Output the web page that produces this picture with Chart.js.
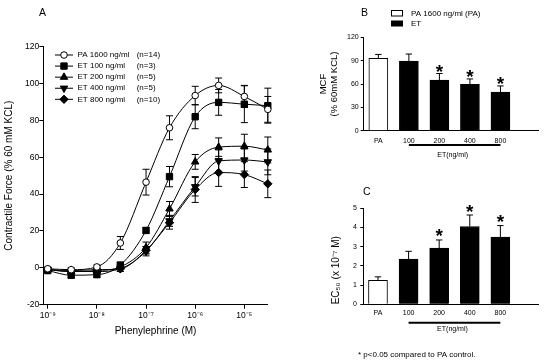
<!DOCTYPE html>
<html>
<head>
<meta charset="utf-8">
<script src="https://cdn.jsdelivr.net/npm/chart.js@4/dist/chart.umd.min.js"></script>
<style>
  body { margin: 0; background: #fff; width: 550px; height: 364px; position: relative; overflow: hidden; }
  canvas { position: absolute; }
  #chartA { left: 0; top: 0; }
  #chartB { left: 300px; top: 0; }
  #chartC { left: 300px; top: 180px; }
</style>
</head>
<body>
<canvas id="chartA" width="290" height="345"></canvas>
<canvas id="chartB" width="250" height="165"></canvas>
<canvas id="chartC" width="250" height="184"></canvas>
<script>
// panel A: concentration-response to phenylephrine
const doses = [1e-9, 3e-9, 1e-8, 3e-8, 1e-7, 3e-7, 1e-6, 3e-6, 1e-5, 3e-5]
const decadeTicks = [1e-9, 1e-8, 1e-7, 1e-6, 1e-5]
const seriesNames = ['PA 1600 ng/ml', 'ET 100 ng/ml', 'ET 200 ng/ml', 'ET 400 ng/ml', 'ET 800 ng/ml']
const seriesN = ['(n=14)', '(n=3)', '(n=5)', '(n=5)', '(n=10)']

const paForce = [-0.5, -1, 0.5, 13.5, 46.5, 76, 93.5, 99, 93, 86]
const paErr = [1, 1, 1, 3.5, 7, 6.5, 5, 4, 6, 7]
const et100Force = [-1.5, -4, -3.7, 1.5, 20.3, 49.5, 82, 89.8, 88.8, 88]
const et100Err = [1, 1.5, 1.5, 1.5, 1.5, 5.5, 6.5, 7, 10, 9.5]
const et200Force = [-1, -2, -1.5, 0.5, 11, 32, 57.5, 65.5, 66, 64]
const et200Err = [1, 1, 1, 1.5, 3, 4, 4, 5, 6.5, 7]
const et400Force = [-1, -2, -2, -0.5, 9, 25.5, 44, 58, 58.5, 57.5]
const et400Err = [1, 1, 1, 1.5, 2.5, 3, 5, 6, 6, 7]
const et800Force = [-1, -1.5, -1, -0.5, 9.5, 24.5, 42.5, 51.7, 50.6, 45.6]
const et800Err = [1, 1, 1, 1.5, 2, 3.5, 7, 7.5, 7, 7.5]

// panels B and C
const groups = ['PA', '100', '200', '400', '800']
const mcf = [93, 89.5, 65, 59.5, 49.5]
const mcfErr = [5, 9, 8.5, 7, 8]
const ec50 = [1.25, 2.36, 2.93, 4.05, 3.5]
const ec50Err = [0.18, 0.4, 0.42, 0.6, 0.6]
const significant = [false, false, true, true, true]

const FONT = "'Liberation Sans', Arial, sans-serif"
Chart.defaults.font.family = FONT
Chart.defaults.color = '#000'

const sup = s => s.replace(/[-0-9]/g, c => '⁻⁰¹²³⁴⁵⁶⁷⁸⁹'['-0123456789'.indexOf(c)])

// error bars, read from dataset.errors
const errorBars = {
  id: 'errorBars',
  beforeDatasetsDraw(chart, args, opts) {
    if (!opts.both) return
    drawErrors(chart, opts)
  },
  afterDatasetsDraw(chart, args, opts) {
    if (opts.both) return
    drawErrors(chart, opts)
  }
}

function drawErrors(chart, opts) {
  const ctx = chart.ctx
  const y = chart.scales.y
  const cap = opts.cap || 3.5
  ctx.save()
  ctx.strokeStyle = '#000'
  ctx.lineWidth = 1
  chart.data.datasets.forEach((ds, i) => {
    if (!ds.errors) return
    chart.getDatasetMeta(i).data.forEach((el, j) => {
      const v = ds.data[j].y
      const top = y.getPixelForValue(v + ds.errors[j])
      const bot = opts.both ? y.getPixelForValue(v - ds.errors[j]) : el.y
      ctx.beginPath()
      ctx.moveTo(el.x, top); ctx.lineTo(el.x, bot)
      ctx.moveTo(el.x - cap, top); ctx.lineTo(el.x + cap, top)
      if (opts.both) { ctx.moveTo(el.x - cap, bot); ctx.lineTo(el.x + cap, bot) }
      ctx.stroke()
    })
  })
  ctx.restore()
}

// stars, group bracket, letters and extra texts for the bar panels
const barExtras = {
  id: 'barExtras',
  afterDraw(chart, args, o) {
    const ctx = chart.ctx
    const x = chart.scales.x
    const y = chart.scales.y
    const ds = chart.data.datasets[0]
    ctx.save()
    ctx.fillStyle = '#000'
    ctx.strokeStyle = '#000'
    // stars
    ctx.font = 'bold 19px ' + FONT
    ctx.textAlign = 'center'
    ctx.textBaseline = 'alphabetic'
    const m = ctx.measureText('*')
    chart.getDatasetMeta(0).data.forEach((el, j) => {
      if (!significant[j]) return
      const cy = y.getPixelForValue(ds.data[j].y + ds.errors[j]) - o.starGap
      ctx.fillText('*', el.x, cy + (m.actualBoundingBoxAscent - m.actualBoundingBoxDescent) / 2)
    })
    // ET bracket
    const x1 = x.getPixelForValue(1)
    const x2 = x.getPixelForValue(4)
    const by = chart.chartArea.bottom + o.lineOffset
    ctx.lineWidth = 2
    ctx.beginPath(); ctx.moveTo(x1, by); ctx.lineTo(x2, by); ctx.stroke()
    ctx.font = '7px ' + FONT
    ctx.textBaseline = 'middle'
    ctx.fillText('ET(ng/ml)', (x1 + x2) / 2 - 2, chart.chartArea.bottom + o.textOffset)
    // panel letter
    ctx.font = '10.5px ' + FONT
    ctx.textAlign = 'left'
    ctx.fillText(o.letter, o.letterX, o.letterY)
    // legend or footnote
    if (o.legend) {
      ctx.lineWidth = 1
      ctx.font = '8px ' + FONT
      ctx.fillStyle = '#fff'
      ctx.fillRect(91.5, 10.5, 11, 5.5)
      ctx.strokeRect(91.5, 10.5, 11, 5.5)
      ctx.fillStyle = '#000'
      ctx.fillRect(91, 20.5, 12, 6)
      ctx.fillText('PA 1600 ng/ml (PA)', 111, 13.5)
      ctx.fillText('ET', 111, 24)
    }
    if (o.note) {
      ctx.font = '8px ' + FONT
      ctx.fillText(o.note, 58, 174.5)
    }
    ctx.restore()
  }
}

// legend inside panel A
const legendA = {
  id: 'legendA',
  afterDraw(chart) {
    const ctx = chart.ctx
    ctx.save()
    ctx.fillStyle = '#000'
    ctx.font = '10.5px ' + FONT
    ctx.textBaseline = 'middle'
    ctx.fillText('A', 39, 13.5)
    ctx.font = '8px ' + FONT
    chart.data.datasets.forEach((ds, i) => {
      const y = 55 + i * 11.08
      ctx.strokeStyle = '#000'
      ctx.lineWidth = 1
      ctx.beginPath(); ctx.moveTo(55, y); ctx.lineTo(73, y); ctx.stroke()
      ctx.fillStyle = ds.pointBackgroundColor
      Chart.helpers.drawPoint(ctx, {
        pointStyle: ds.pointStyle, radius: ds.pointRadius,
        rotation: ds.pointRotation || 0, borderWidth: 1
      }, 64, y)
      ctx.fillStyle = '#000'
      ctx.fillText(seriesNames[i], 77.5, y)
      const nx = Math.max(77.5 + ctx.measureText(seriesNames[i] + ' ').width, 136.7)
      ctx.fillText(seriesN[i], nx, y)
    })
    ctx.restore()
  }
}

function lineSet(values, errors, style, radius, fill, rotation) {
  return {
    data: doses.map((d, i) => ({ x: d, y: values[i] })),
    errors: errors,
    borderColor: '#000',
    borderWidth: 1,
    pointStyle: style,
    pointRadius: radius,
    pointRotation: rotation || 0,
    pointBackgroundColor: fill,
    pointBorderColor: '#000',
    pointBorderWidth: 1,
    cubicInterpolationMode: 'monotone',
    clip: false
  }
}

new Chart(document.getElementById('chartA'), {
  type: 'line',
  data: {
    datasets: [
      lineSet(paForce, paErr, 'circle', 3.3, '#fff'),
      lineSet(et100Force, et100Err, 'rect', 4.5, '#000'),
      lineSet(et200Force, et200Err, 'triangle', 4.3, '#000'),
      lineSet(et400Force, et400Err, 'triangle', 4.3, '#000', 180),
      lineSet(et800Force, et800Err, 'rectRot', 4.2, '#000')
    ]
  },
  options: {
    responsive: false,
    animation: false,
    layout: { padding: { top: 46.7, right: 22.2, left: 0, bottom: 0 } },
    plugins: {
      legend: { display: false },
      tooltip: { enabled: false },
      errorBars: { both: true, cap: 3.5 }
    },
    scales: {
      x: {
        type: 'logarithmic',
        min: 8.13e-10,
        max: 3e-5,
        afterBuildTicks: s => { s.ticks = decadeTicks.map(v => ({ value: v })) },
        afterFit: s => { s.height = 40.3 },
        grid: { drawOnChartArea: false, tickLength: 4, color: '#000' },
        border: { color: '#000' },
        ticks: {
          font: { size: 8.5 }, padding: 1.5, maxRotation: 0, autoSkip: false,
          callback: v => '10' + sup(String(Math.round(Math.log10(v))))
        },
        title: { display: true, text: 'Phenylephrine (M)', font: { size: 10 }, padding: { top: 0, bottom: 8 } }
      },
      y: {
        min: -20,
        max: 120,
        afterFit: s => { s.width = 43.3 },
        grid: { drawOnChartArea: false, tickLength: 4, color: '#000' },
        border: { color: '#000' },
        ticks: { stepSize: 20, font: { size: 8.5 }, padding: 0 },
        title: { display: true, text: 'Contractile Force (% 60 mM KCL)', font: { size: 10 }, padding: { top: 3, bottom: 0 } }
      }
    }
  },
  plugins: [errorBars, legendA]
})

function barChart(id, values, errors, yMax, yStep, title, extras, geom) {
  return new Chart(document.getElementById(id), {
    type: 'bar',
    data: {
      datasets: [{
        data: groups.map((g, i) => ({ x: i, y: values[i] })),
        errors: errors,
        backgroundColor: groups.map((g, i) => i ? '#000' : '#fff'),
        borderColor: '#000',
        borderWidth: 1,
        barThickness: 19
      }]
    },
    options: {
      responsive: false,
      animation: false,
      layout: { padding: { top: geom.top, right: 12, left: 0, bottom: 0 } },
      plugins: {
        legend: { display: false },
        tooltip: { enabled: false },
        errorBars: { both: false, cap: 3.2 },
        barExtras: extras
      },
      scales: {
        x: {
          type: 'linear',
          min: -0.48,
          max: 5.23,
          offset: false,
          afterBuildTicks: s => { s.ticks = groups.map((g, i) => ({ value: i })) },
          afterFit: s => { s.height = geom.xh },
          grid: { display: false, drawTicks: false },
          border: { color: '#000' },
          ticks: { font: { size: 7 }, padding: geom.tickPad, maxRotation: 0, autoSkip: false, callback: v => groups[v] }
        },
        y: {
          min: 0,
          max: yMax,
          afterFit: s => { s.width = geom.yw },
          grid: { drawOnChartArea: false, tickLength: 3, color: '#000' },
          border: { color: '#000' },
          ticks: { stepSize: yStep, font: { size: 7 }, padding: geom.yPad },
          title: title
        }
      }
    },
    plugins: [errorBars, barExtras]
  })
}

barChart('chartB', mcf, mcfErr, 120, 30,
  { display: true, text: ['MCF', '(% 60mM KCL)'], font: { size: 9.5, lineHeight: 1.1 }, padding: { top: 18.3, bottom: 0 } },
  { letter: 'B', letterX: 61, letterY: 13.5, starGap: 5, lineOffset: 14.3, textOffset: 24.3, legend: true },
  { top: 37.3, xh: 34.3, yw: 63.7, tickPad: 6, yPad: 2 })

barChart('chartC', ec50, ec50Err, 5, 1,
  { display: true, text: 'EC₅₀ (x 10⁻⁷ M)', align: 'start', font: { size: 10 }, padding: { top: 30.5, bottom: 0 } },
  { letter: 'C', letterX: 63, letterY: 11.7, starGap: 7, lineOffset: 18.4, textOffset: 25, note: '* p<0.05 compared to PA control.' },
  { top: 28.3, xh: 59.7, yw: 63.3, tickPad: 4.8, yPad: 3.5 })
</script>
</body>
</html>
